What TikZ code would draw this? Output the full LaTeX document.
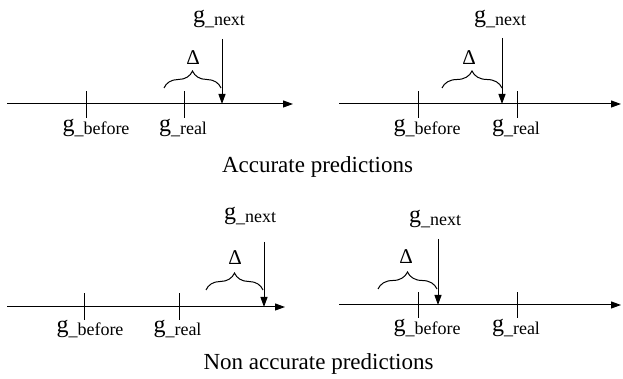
\documentclass[tikz,border=0pt]{standalone}
\usepackage{fontspec}
\setmainfont{Liberation Serif}
\usetikzlibrary{arrows.meta,decorations.pathreplacing}
\newcommand\glab[1]{{\fontsize{24}{24}\selectfont g}\raisebox{-3pt}{\fontsize{18}{18}\selectfont\_#1}}
\begin{document}
\begin{tikzpicture}[x=1pt,y=1pt,
  axisline/.style={line width=1pt,-{Triangle[length=10pt,width=7pt]}},
  pointer/.style={line width=1pt,-{Triangle[length=10pt,width=7pt]}},
  tickline/.style={line width=1pt},
  bracebox/.style={line width=1pt,decorate,decoration={brace,amplitude=17pt}},
  lab/.style={anchor=base,inner sep=0pt},
  deltalab/.style={inner sep=0pt,font=\fontsize{21}{21}\selectfont},
  caption/.style={anchor=base,inner sep=0pt,font=\fontsize{23}{23}\selectfont}]
\useasboundingbox (0,0) rectangle (623,379);

% ---------- Panel 1 (top left) ----------
\coordinate (p1s) at (7,275); \coordinate (p1e) at (293,275);
\draw[axisline] (p1s) -- (p1e);
\coordinate (p1b1) at (86,261); \coordinate (p1b2) at (86,288);
\coordinate (p1r1) at (184,261); \coordinate (p1r2) at (184,288);
\draw[tickline] (p1b1) -- (p1b2);
\draw[tickline] (p1r1) -- (p1r2);
\node[lab] (p1before) at (96,247) {\glab{before}};
\node[lab] (p1real) at (183,247) {\glab{real}};
\node[lab] (p1next) at (219,356) {\glab{next}};
\coordinate (p1n1) at (222,340); \coordinate (p1n2) at (222,275);
\draw[pointer] (p1n1) -- (p1n2);
\coordinate (p1c1) at (164,291); \coordinate (p1c2) at (221,291);
\draw[bracebox] (p1c1) -- (p1c2);
\node[deltalab] (p1delta) at (193,321) {Δ};

% ---------- Panel 2 (top right) ----------
\coordinate (p2s) at (339,275); \coordinate (p2e) at (621,275);
\draw[axisline] (p2s) -- (p2e);
\coordinate (p2b1) at (418,261); \coordinate (p2b2) at (418,288);
\coordinate (p2r1) at (517,261); \coordinate (p2r2) at (517,288);
\draw[tickline] (p2b1) -- (p2b2);
\draw[tickline] (p2r1) -- (p2r2);
\node[lab] (p2before) at (427,247) {\glab{before}};
\node[lab] (p2real) at (516,247) {\glab{real}};
\node[lab] (p2next) at (500,356) {\glab{next}};
\coordinate (p2n1) at (502,341); \coordinate (p2n2) at (502,275);
\draw[pointer] (p2n1) -- (p2n2);
\coordinate (p2c1) at (442,291); \coordinate (p2c2) at (502,291);
\draw[bracebox] (p2c1) -- (p2c2);
\node[deltalab] (p2delta) at (469,321) {Δ};

\node[caption] (cap1) at (317.5,206) {Accurate predictions};

% ---------- Panel 3 (bottom left) ----------
\coordinate (p3s) at (7,72); \coordinate (p3e) at (285,72);
\draw[axisline] (p3s) -- (p3e);
\coordinate (p3b1) at (84,59); \coordinate (p3b2) at (84,86);
\coordinate (p3r1) at (179,59); \coordinate (p3r2) at (179,86);
\draw[tickline] (p3b1) -- (p3b2);
\draw[tickline] (p3r1) -- (p3r2);
\node[lab] (p3before) at (90,46) {\glab{before}};
\node[lab] (p3real) at (177.5,46) {\glab{real}};
\node[lab] (p3next) at (250,159) {\glab{next}};
\coordinate (p3n1) at (264,137); \coordinate (p3n2) at (264,72);
\draw[pointer] (p3n1) -- (p3n2);
\coordinate (p3c1) at (206,89); \coordinate (p3c2) at (263,89);
\draw[bracebox] (p3c1) -- (p3c2);
\node[deltalab] (p3delta) at (235,121) {Δ};

% ---------- Panel 4 (bottom right) ----------
\coordinate (p4s) at (339,74); \coordinate (p4e) at (621,74);
\draw[axisline] (p4s) -- (p4e);
\coordinate (p4b1) at (418,61); \coordinate (p4b2) at (418,87);
\coordinate (p4r1) at (517,61); \coordinate (p4r2) at (517,87);
\draw[tickline] (p4b1) -- (p4b2);
\draw[tickline] (p4r1) -- (p4r2);
\node[lab] (p4before) at (427,47) {\glab{before}};
\node[lab] (p4real) at (516,47) {\glab{real}};
\node[lab] (p4next) at (435,156) {\glab{next}};
\coordinate (p4n1) at (438,140); \coordinate (p4n2) at (438,74);
\draw[pointer] (p4n1) -- (p4n2);
\coordinate (p4c1) at (378,90); \coordinate (p4c2) at (437,90);
\draw[bracebox] (p4c1) -- (p4c2);
\node[deltalab] (p4delta) at (406,122) {Δ};

\node[caption] (cap2) at (318.5,9) {Non accurate predictions};
\end{tikzpicture}
\end{document}
